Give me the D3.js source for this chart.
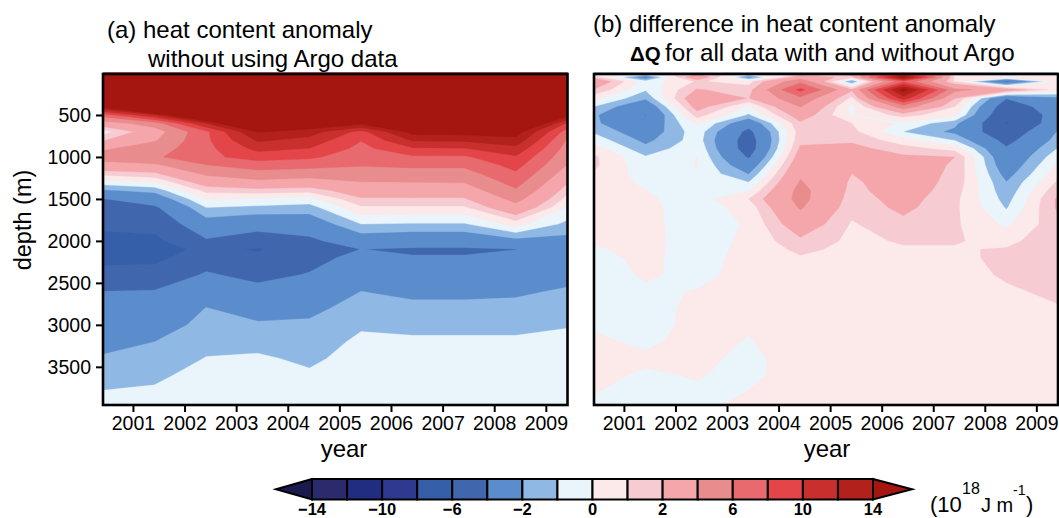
<!DOCTYPE html>
<html><head><meta charset="utf-8">
<script src="https://cdn.jsdelivr.net/npm/d3@7"></script>
<style>
html,body{margin:0;padding:0;background:#fff;overflow:hidden}
svg{display:block}
text{font-family:"Liberation Sans",Arial,sans-serif;fill:#000}
.axis text{font-size:19.5px}
.axis path,.axis line{stroke:#000;stroke-width:2px}
</style></head><body><svg id="c" width="1059" height="518"></svg>
<script>
const depthLevels=[0,50,100,200,300,400,500,600,700,800,900,1000,1100,1200,1300,1400,1500,1600,1800,2000,2100,2200,2400,2600,2800,3000,3200,3400,3600,3950];
const columnYears=[2000.42,2001.42,2002.42,2003.42,2004.42,2005.42,2006.42,2007.42,2008.42,2009.42];
const yearTicks=[2001,2002,2003,2004,2005,2006,2007,2008,2009];
const depthTicks=[500,1000,1500,2000,2500,3000,3500];
const levels=[-14,-12,-10,-8,-6,-4,-2,-1,0,1,2,4,6,8,10,12,14];
const levelLabels=["\u221214","\u221210","\u22126","\u22122","0","2","6","10","14"];
const labelledLevels=[-14,-10,-6,-2,0,2,6,10,14];
const colours=["#1a1a4e","#2a2a6c","#212d80","#2d3a8f","#355fa8","#4066ae","#5b8ccb","#8fb8e4","#e9f5fa","#fce9ea","#f7cbd2","#f4a6aa","#e88c8d","#e86a6e","#e34548","#c9302d","#b2211b","#a51610"];
// each list runs from the surface to the bottom at one column year
const anomalyA=[
[30,30,30,30,28,15,7,3,0.5,1.9,3.7,5,3.2,1.3,-0.45,-2.15,-4.05,-4.6,-5.7,-6.4,-6.8,-6.5,-5.44,-4,-3.45,-2.92,-2.39,-1.87,-1.42,-0.6],
[30,30,30,30,30,25,12,5,3,3.8,5,5.7,3.6,1.75,0.02,-1.65,-3,-4.25,-5.4,-6.4,-6.8,-6.5,-5.23,-3.9,-3.25,-2.63,-2,-1.6,-1.22,-0.55],
[30,30,30,30,30,30,20,12,7.6,7.6,7.4,7.5,5.9,4.33,2.8,1.3,0.02,-0.97,-2.65,-4.2,-5.5,-4.8,-3.83,-2.9,-1.97,-1.63,-1.3,-0.96,-0.6,-0.3],
[30,30,30,30,30,30,25,20,14.2,12.3,10.6,8.85,7,5.2,3.5,1.55,-0.15,-1.2,-3.15,-5.1,-6.15,-5.7,-4.5,-3.5,-2.6,-1.83,-1.33,-0.85,-0.6,-0.2],
[30,30,30,30,30,30,24,16,13,11.3,9.95,8.4,6.65,4.9,3.15,1.35,-0.35,-1.4,-2.9,-4.4,-4.8,-4.6,-3.9,-3.1,-2.3,-1.82,-1.5,-1.2,-0.85,-0.4],
[30,30,30,30,30,30,22,14.6,9.3,8.1,7.4,6.75,6.1,5.05,3.95,2.9,1.85,0.85,-1,-2.85,-3.98,-3.45,-2.75,-2,-1.57,-1.13,-0.8,-0.6,-0.45,-0.2],
[30,30,30,30,30,30,25,20,14.8,12.25,9.75,7.7,6.35,5.2,4,2.9,1.85,0.85,-1.1,-3.1,-4.2,-3.9,-3.1,-2.3,-1.7,-1.25,-0.85,-0.65,-0.45,-0.2],
[30,30,30,30,30,30,25,20,15,12.4,9.9,7.7,6.35,5.2,4.1,2.95,1.85,0.85,-1.1,-3.1,-4.2,-3.9,-3.1,-2.3,-1.7,-1.25,-0.85,-0.65,-0.45,-0.2],
[30,30,30,30,30,30,25,20,15.1,13.3,11.4,9.75,8.7,7.7,6.75,5.75,4.6,3.35,0.4,-2.4,-4.02,-3.6,-3,-2.2,-1.67,-1.25,-0.85,-0.65,-0.45,-0.2],
[30,30,30,30,30,25,15,9.6,7.05,5.75,5.15,4.55,3.9,3,2.1,1.35,0.6,-0.05,-1.3,-2.4,-2.8,-2.8,-2.45,-1.85,-1.45,-1.05,-0.8,-0.6,-0.45,-0.2]
];
const anomalyB=[
[0.3,1.5,3.3,1.9,0.3,-1,-1.8,-1.8,-1.15,-0.4,0.45,1.2,1.2,0.9,0.7,0.6,0.5,0.45,0.3,0.1,-0.1,-0.25,-0.4,-0.4,-0.3,-0.1,0.15,0.25,0.2,-0.1],
[0.5,-3,-0.6,-0.9,-1.8,-3.3,-4.05,-3.3,-2.9,-2.3,-1.7,-0.9,-0.7,-0.45,-0.2,0.02,0.15,0.25,0.3,0.3,0.25,0.2,0.1,-0.1,-0.3,-0.4,-0.15,0.15,-0.1,-0.3],
[1.5,3.5,1.1,2.1,3.2,2.6,1.45,0.2,-0.4,-0.5,-0.2,0.02,0.05,-0.1,-0.3,-0.4,-0.45,-0.5,-0.5,-0.45,-0.4,-0.35,-0.2,0.03,0.2,0.3,0.3,0.25,0.05,-0.2],
[0.5,-2.5,0.6,1.5,1.95,-0.1,-1.15,-3.2,-4.5,-5,-5,-4.2,-3.1,-2.05,-1,-0.05,1,0.4,0.1,0.2,0.25,0.3,0.25,0.2,0.15,0.1,-0.05,-0.25,-0.2,0.2],
[1,3,5.5,8.6,5.5,4.1,2.8,1.8,1.5,1.7,2.2,2.7,3.2,3.7,4.15,4.6,4.6,4.2,3,1.75,1.25,0.9,0.75,0.65,0.6,0.55,0.5,0.45,0.4,0.3],
[3,1.5,-2.1,2.2,0.7,-0.3,-0.1,1,1.3,1.8,2.4,2.6,2.4,2,1.8,1.65,1.45,1.3,0.9,0.75,0.7,0.65,0.6,0.55,0.5,0.5,0.45,0.4,0.35,0.3],
[10,15,7.5,15,11,5,1.4,-0.2,-1.01,0.4,1.4,2.2,2.5,2.6,2.7,2.7,2.5,2.3,1.7,1.1,0.9,0.8,0.7,0.65,0.6,0.55,0.5,0.45,0.4,0.3],
[0.5,0.8,0.8,4.5,2.05,1,0.3,-1.7,-2.3,-1.05,0.6,2,1.9,1.8,1.65,1.45,1.25,1.2,1.15,1.05,0.95,0.8,0.7,0.65,0.6,0.55,0.5,0.45,0.4,0.3],
[0.5,0.8,-4.3,3,-3.9,-5.2,-5.9,-6.05,-5.5,-4.6,-3.8,-3.4,-3,-2.5,-1.98,-1.7,-1.4,-1.1,-0.2,0.8,1.05,1.2,1.1,0.9,0.75,0.7,0.65,0.6,0.55,0.4],
[0.5,0.8,0.3,0.5,-2.3,-2.8,-3.2,-3,-1.9,-1.5,-0.95,-0.3,0.2,0.6,1.15,1.7,2.2,2.2,1.7,1.5,1.45,1.4,1.3,1.15,0.95,0.8,0.7,0.6,0.55,0.4]
];

const svg=d3.select("#c");
const depthIndex=d3.scaleLinear().domain(depthLevels.map((_,i)=>i)).range(depthLevels);
const yearIndex=d3.scaleLinear().domain(columnYears.map((_,i)=>i)).range(columnYears);
const y=d3.scaleLinear().domain([0,3950]).range([73,404.6]);

function panel(values,left,right,showDepth){
  const x=d3.scaleLinear().domain([columnYears[0],columnYears[9]]).range([left,right]);
  const nx=columnYears.length,ny=depthLevels.length;
  const grid=[];
  for(let j=0;j<ny;j++)for(let i=0;i<nx;i++)grid.push(values[i][j]);
  const contours=d3.contours().size([nx,ny]).thresholds(levels)(grid);
  const path=d3.geoPath(d3.geoTransform({point(px,py){
    const ix=Math.max(0,Math.min(nx-1,px-0.5)),iy=Math.max(0,Math.min(ny-1,py-0.5));
    this.stream.point(x(yearIndex(ix)),y(depthIndex(iy)));
  }}));
  const g=svg.append("g");
  g.append("rect").attr("x",left).attr("y",y(0)).attr("width",right-left).attr("height",y(3950)-y(0)).attr("fill",colours[0]);
  g.selectAll("path").data(contours).join("path").attr("d",path)
    .attr("fill",(d,i)=>colours[i+1]).attr("stroke",(d,i)=>colours[i+1]).attr("stroke-width",0.3);
  const ax=svg.append("g").attr("class","axis").attr("transform",`translate(0,405)`)
    .call(d3.axisBottom(x).tickValues(yearTicks).tickFormat(d3.format("d")).tickSize(7).tickSizeOuter(0).tickPadding(4));
  ax.select(".domain").remove();
  if(showDepth){
    const ay=svg.append("g").attr("class","axis").attr("transform",`translate(${left},0)`)
      .call(d3.axisLeft(y).tickValues(depthTicks).tickSize(7).tickSizeOuter(0).tickPadding(5).tickFormat(d3.format("d")));
    ay.select(".domain").remove();
  }
  svg.append("rect").attr("x",left).attr("y",74).attr("width",right-left).attr("height",331)
    .attr("fill","none").attr("stroke","#000").attr("stroke-width",2.6);
}
panel(anomalyA,103,567.5,true);
panel(anomalyB,594,1058,false);

function label(t,xp,yp,size,opts={}){
  const n=svg.append("text").attr("x",xp).attr("y",yp).attr("font-size",size).text(t);
  if(opts.anchor)n.attr("text-anchor",opts.anchor);
  if(opts.weight)n.attr("font-weight",opts.weight);
  if(opts.rotate)n.attr("transform",`rotate(-90 ${xp} ${yp})`);
  return n;
}
label("(a) heat content anomaly",107,38,24);
label("without using Argo data",148,67,24);
label("(b) difference in heat content anomaly",593,32,24);
label("\u0394Q",630,61,20.5,{weight:"bold"});
label("for all data with and without Argo",665,61,24.2);
label("year",344,457,24,{anchor:"middle"});
label("year",827,457,24,{anchor:"middle"});
label("depth (m)",31,220,23.5,{anchor:"middle",rotate:true});

// colour bar
const cb=d3.scaleLinear().domain(levels.map((_,i)=>i)).range(levels.map((_,i)=>312+i*561/16));
const bar=svg.append("g");
const barTop=479,barBot=499.5;
bar.selectAll("rect").data(d3.range(16)).join("rect")
  .attr("x",i=>cb(i)).attr("y",barTop).attr("width",i=>cb(i+1)-cb(i)).attr("height",barBot-barTop)
  .attr("fill",i=>colours[i+1]).attr("stroke","#000").attr("stroke-width",2);
bar.append("path").attr("d",d3.line()([[cb(0),barTop],[276,(barTop+barBot)/2],[cb(0),barBot]])+"Z").attr("fill",colours[0]).attr("stroke","#000").attr("stroke-width",2);
bar.append("path").attr("d",d3.line()([[cb(16),barTop],[912,(barTop+barBot)/2],[cb(16),barBot]])+"Z").attr("fill",colours[17]).attr("stroke","#000").attr("stroke-width",2);
labelledLevels.forEach((v,k)=>{
  label(levelLabels[k],cb(levels.indexOf(v)),514.5,16.5,{anchor:"middle",weight:"bold"});
});
label("(10",930,512,22);
label("18",962,494,16);
label("J m",981,512,20);
label("-1",1013,495,14);
label(")",1026,512,22);
</script></body></html>
